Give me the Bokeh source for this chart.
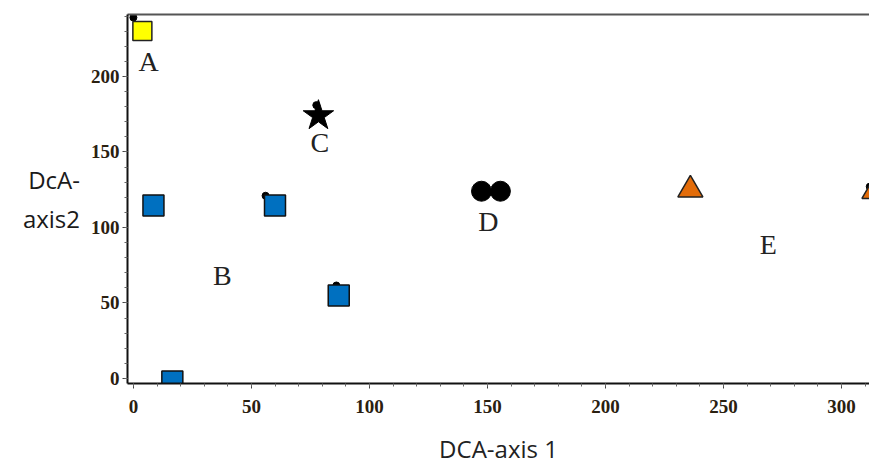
from bokeh.plotting import figure
from bokeh.models import Range1d, LinearAxis, SingleIntervalTicker, FixedTicker
from bokeh.core.properties import value
from bokeh.embed import file_html
from bokeh.resources import INLINE

# ---- data ----
a_x = [3.8]
a_y = [230]
b_x = [8.5, 60, 87, 16.5]
b_y = [114.6, 114.6, 55, -2]
c_x = [78.4]
c_y = [174]
d_x = [147.5, 155.5]
d_y = [124, 124]
e_x = [236, 314]
e_y = [125, 124]
dot_x = [0, 56, 86, 77.5, 312]
dot_y = [239, 121, 61.6, 181, 127]
group_labels = ["A", "B", "C", "D", "E"]
label_x = [6.4, 37.7, 79, 150.4, 269]
label_y = [210, 68, 156, 104, 89]
x_ticks = [0, 50, 100, 150, 200, 250, 300]
y_ticks = [0, 50, 100, 150, 200]

p = figure(width=869, height=468, output_backend="svg", toolbar_location=None,
           x_range=Range1d(-2.5, 311.9), y_range=Range1d(-3.3, 241),
           min_border_left=127, min_border_right=0, min_border_top=14, min_border_bottom=85,
           background_fill_color="white", border_fill_color="white")
p.outline_line_color = None
p.xgrid.visible = False
p.ygrid.visible = False

tick_font = "Liberation Serif"
for ax in (p.xaxis[0], p.yaxis[0]):
    ax.ticker = SingleIntervalTicker(interval=50, num_minor_ticks=5)
    ax.axis_line_width = 2
    ax.axis_line_color = "#111111"
    ax.major_tick_out = 5
    ax.major_tick_in = 0
    ax.minor_tick_out = 3
    ax.minor_tick_in = 0
    ax.major_tick_line_color = "#444444"
    ax.minor_tick_line_color = "#666666"
    ax.major_label_text_font = tick_font
    ax.major_label_text_font_style = "bold"
    ax.major_label_text_font_size = "19px"
    ax.major_label_text_color = "#2a2010"

p.xaxis[0].major_label_standoff = 11
p.xaxis[0].axis_label = "DCA-axis 1"
p.xaxis[0].axis_label_text_font = "Open Sans"
p.xaxis[0].axis_label_text_font_style = "normal"
p.xaxis[0].axis_label_text_font_size = "24px"
p.xaxis[0].axis_label_text_color = "#222222"
p.xaxis[0].axis_label_standoff = 16

p.yaxis[0].major_label_standoff = 3
p.yaxis[0].axis_label = "DcA-\naxis2"
p.yaxis[0].axis_label_orientation = "horizontal"
p.yaxis[0].axis_label_text_font = "Open Sans"
p.yaxis[0].axis_label_text_font_style = "normal"
p.yaxis[0].axis_label_text_font_size = "24px"
p.yaxis[0].axis_label_text_color = "#1a1a1a"
p.yaxis[0].axis_label_standoff = 8

top = LinearAxis(ticker=FixedTicker(ticks=[]), major_tick_line_color=None,
                 minor_tick_line_color=None, axis_line_color="#555555",
                 axis_line_width=2)
p.add_layout(top, "above")

# small black anchor dots
p.scatter(dot_x, dot_y, marker="circle", size=7, fill_color="black", line_color="black")
# groups
p.scatter(a_x, a_y, marker="square", size=19, fill_color="#FFFF00", line_color="#222222", line_width=1.5)
p.scatter(b_x, b_y, marker="square", size=21, fill_color="#0070C0", line_color="#111111", line_width=1.5)
p.scatter(c_x, c_y, marker="star", size=32, fill_color="black", line_color="black")
p.scatter(d_x, d_y, marker="circle", size=20, fill_color="black", line_color="black")
p.scatter(e_x, e_y, marker="triangle", size=25, fill_color="#E36C09", line_color="#222222", line_width=1.5)

p.text(label_x, label_y, text=group_labels, text_font=value("Liberation Serif"),
       text_font_size="28px", text_align="center", text_baseline="middle", text_color="#222222")

open("out.html", "w").write(file_html(p, INLINE))
